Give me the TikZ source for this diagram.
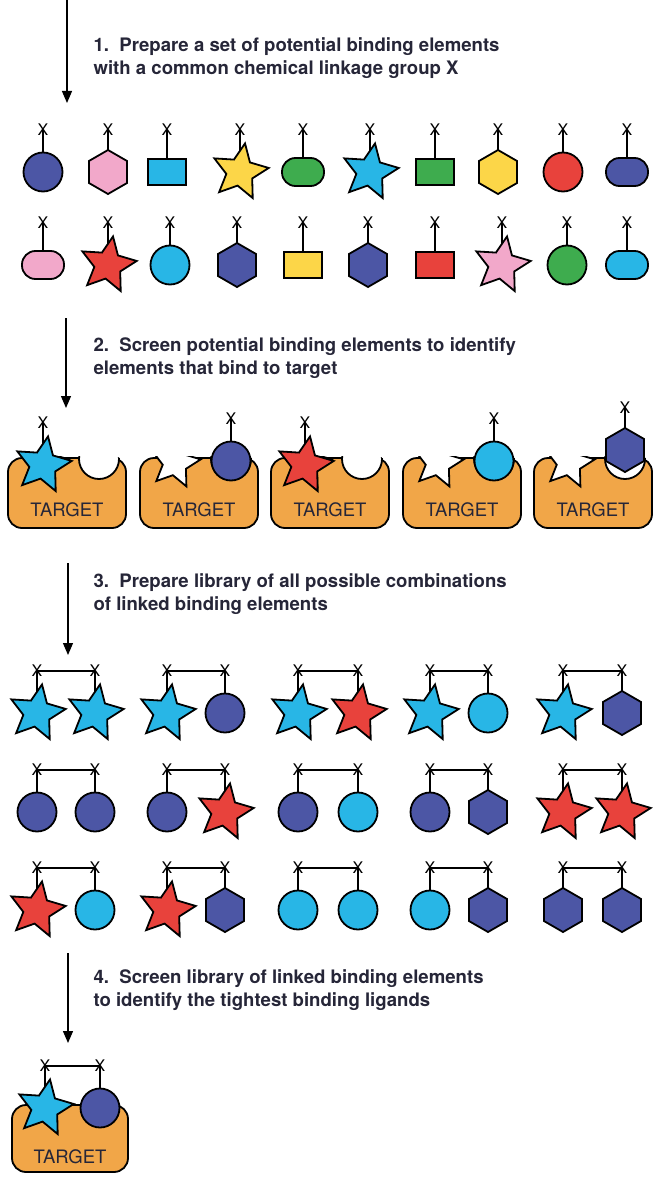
\documentclass[tikz,border=0pt]{standalone}
\usepackage{fontspec}
\setmainfont{TeX Gyre Heros}
\usetikzlibrary{shapes.geometric,arrows.meta}

\definecolor{dblue}{RGB}{76,86,165}
\definecolor{lcyan}{RGB}{40,182,230}
\definecolor{lpink}{RGB}{242,168,202}
\definecolor{lyellow}{RGB}{252,214,72}
\definecolor{lgreen}{RGB}{62,172,78}
\definecolor{lred}{RGB}{232,66,60}
\definecolor{tgorange}{RGB}{241,166,72}
\definecolor{inkc}{RGB}{38,38,56}

\tikzset{
  outl/.style={draw=black, line width=1.8pt, inner sep=0pt},
  ballshape/.style={outl, circle, minimum size=39pt},
  hexshape/.style={outl, regular polygon, regular polygon sides=6, shape border rotate=30, minimum size=44pt},
  boxshape/.style={outl, rectangle, minimum width=38pt, minimum height=26pt},
  pillshape/.style={outl, rectangle, rounded corners=13.5pt, minimum width=42pt, minimum height=28pt},
  starshape/.style={outl, star, star points=5, star point ratio=2.1, shape border rotate=-10, minimum size=58pt},
  xmark/.style={inner sep=0pt, font=\fontsize{16}{16}\selectfont},
  stem/.style={line width=1.2pt},
  steparrow/.style={line width=1.3pt, -{Triangle[width=10pt,length=12pt]}},
  steptext/.style={anchor=west, align=left, text=inkc, font=\bfseries\fontsize{18.6}{23}\selectfont},
  targetbody/.style={draw=black, line width=1.8pt, fill=tgorange, rounded corners=14pt, minimum width=118pt, minimum height=70pt, inner sep=0pt},
  targetlabel/.style={text=inkc, font=\fontsize{18.5}{18.5}\selectfont},
}

% one binding element: name, x, y, shape, colour
\newcommand{\elem}[5]{%
  \node[xmark] (#1x) at (#2,#3-42) {X};
  \coordinate (#1c) at (#2,#3);
  \draw[stem] (#1x.center) -- (#1c);
  \node[#4, fill=#5] (#1) at (#1c) {};
}
% two linked elements: name, y, xl, shape, colour, xr, shape, colour
\newcommand{\linked}[8]{%
  \elem{#1a}{#3}{#2}{#4}{#5}
  \elem{#1b}{#6}{#2}{#7}{#8}
  \draw[stem] (#1ax.center) -- (#1bx.center);
}
% target with star and circle pockets: name, left x
\newcommand{\tgt}[2]{%
  \node[targetbody] (#1) at (#2+59,493) {};
  \begin{scope}
    \clip[rounded corners=14pt] ([yshift=1pt]#1.north west) rectangle (#1.south east);
    \node[starshape, minimum size=52pt, fill=white] (#1s) at (#2+35,463) {};
    \node[outl, circle, minimum size=40pt, fill=white] (#1p) at (#2+91,459) {};
  \end{scope}
  \node[targetlabel] (#1l) at (#2+59,510) {TARGET};
}

\begin{document}
\begin{tikzpicture}[x=1pt,y=-1pt]
  \useasboundingbox (0,0) rectangle (655,1180);

  % step 1
  \coordinate (a1s) at (67,0);
  \coordinate (a1e) at (67,103);
  \draw[steparrow] (a1s) -- (a1e);
  \node[steptext] (s1) at (90,58.5) {1.\ \ Prepare a set of potential binding elements\\with a common chemical linkage group X};

  \elem{p1}{43}{172}{ballshape}{dblue}
  \elem{p2}{108}{172}{hexshape}{lpink}
  \elem{p3}{167}{172}{boxshape}{lcyan}
  \elem{p4}{240}{172}{starshape}{lyellow}
  \elem{p5}{303}{172}{pillshape}{lgreen}
  \elem{p6}{370}{172}{starshape}{lcyan}
  \elem{p7}{435}{172}{boxshape}{lgreen}
  \elem{p8}{498}{172}{hexshape}{lyellow}
  \elem{p9}{563}{172}{ballshape}{lred}
  \elem{p10}{627}{172}{pillshape}{dblue}

  \elem{q1}{43}{265}{pillshape}{lpink}
  \elem{q2}{108}{265}{starshape}{lred}
  \elem{q3}{170}{265}{ballshape}{lcyan}
  \elem{q4}{237}{265}{hexshape}{dblue}
  \elem{q5}{303}{265}{boxshape}{lyellow}
  \elem{q6}{368}{265}{hexshape}{dblue}
  \elem{q7}{435}{265}{boxshape}{lred}
  \elem{q8}{502}{265}{starshape}{lpink}
  \elem{q9}{567}{265}{ballshape}{lgreen}
  \elem{q10}{627}{265}{pillshape}{lcyan}

  % step 2
  \coordinate (a2s) at (66,318);
  \coordinate (a2e) at (66,408);
  \draw[steparrow] (a2s) -- (a2e);
  \node[steptext] (s2) at (90,358) {2.\ \ Screen potential binding elements to identify\\elements that bind to target};

  \tgt{t1}{8}
  \tgt{t2}{140}
  \tgt{t3}{271}
  \tgt{t4}{403}
  \tgt{t5}{534}
  \elem{b1}{43}{465}{starshape}{lcyan}
  \elem{b2}{231}{461}{ballshape}{dblue}
  \elem{b3}{305}{465}{starshape}{lred}
  \elem{b4}{494}{461}{ballshape}{lcyan}
  \elem{b5}{625}{450}{hexshape}{dblue}

  % step 3
  \coordinate (a3s) at (68,563);
  \coordinate (a3e) at (68,655);
  \draw[steparrow] (a3s) -- (a3e);
  \node[steptext] (s3) at (90,594.5) {3.\ \ Prepare library of all possible combinations\\of linked binding elements};

  \linked{l11}{713}{37}{starshape}{lcyan}{95}{starshape}{lcyan}
  \linked{l12}{713}{167}{starshape}{lcyan}{225}{ballshape}{dblue}
  \linked{l13}{713}{298}{starshape}{lcyan}{358}{starshape}{lred}
  \linked{l14}{713}{430}{starshape}{lcyan}{488}{ballshape}{lcyan}
  \linked{l15}{713}{563}{starshape}{lcyan}{622}{hexshape}{dblue}

  \linked{l21}{812}{37}{ballshape}{dblue}{95}{ballshape}{dblue}
  \linked{l22}{812}{167}{ballshape}{dblue}{225}{starshape}{lred}
  \linked{l23}{812}{298}{ballshape}{dblue}{358}{ballshape}{lcyan}
  \linked{l24}{812}{430}{ballshape}{dblue}{488}{hexshape}{dblue}
  \linked{l25}{812}{563}{starshape}{lred}{622}{starshape}{lred}

  \linked{l31}{910}{37}{starshape}{lred}{95}{ballshape}{lcyan}
  \linked{l32}{910}{167}{starshape}{lred}{225}{hexshape}{dblue}
  \linked{l33}{910}{298}{ballshape}{lcyan}{358}{ballshape}{lcyan}
  \linked{l34}{910}{430}{ballshape}{lcyan}{488}{hexshape}{dblue}
  \linked{l35}{910}{563}{hexshape}{dblue}{622}{hexshape}{dblue}

  % step 4
  \coordinate (a4s) at (68,953);
  \coordinate (a4e) at (68,1043);
  \draw[steparrow] (a4s) -- (a4e);
  \node[steptext] (s4) at (90,990.5) {4.\ \ Screen library of linked binding elements\\to identify the tightest binding ligands};

  \node[targetbody, minimum width=116pt, minimum height=67pt] (tf) at (70,1138.5) {};
  \node[targetlabel] (tfl) at (70,1157) {TARGET};
  \linked{f}{1108}{45}{starshape}{lcyan}{100}{ballshape}{dblue}
\end{tikzpicture}
\end{document}
